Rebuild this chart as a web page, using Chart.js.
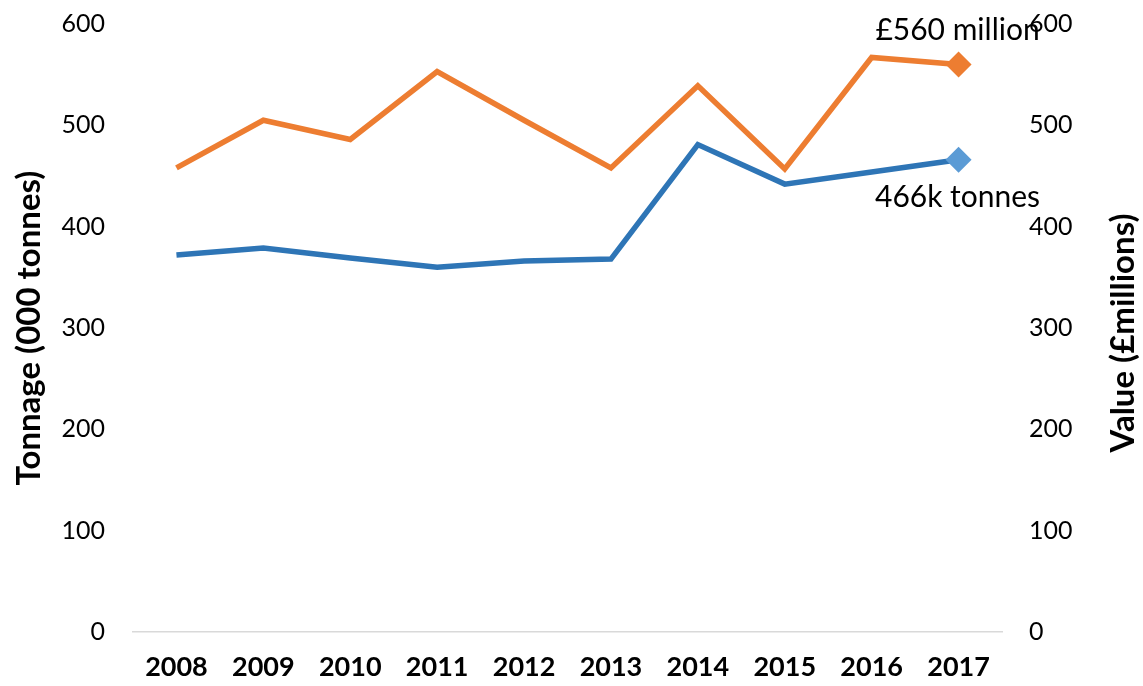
<!DOCTYPE html>
<html>
<head>
<meta charset="utf-8">
<script src="https://cdn.jsdelivr.net/npm/chart.js@4.4.0/dist/chart.umd.min.js"></script>
<style>
  body { margin: 0; background: #fff; }
</style>
</head>
<body>
<canvas id="chart" width="1143" height="686"></canvas>

<script>
// data
var years = ["2008", "2009", "2010", "2011", "2012", "2013", "2014", "2015", "2016", "2017"];
var tonnage = [372, 379, 369, 360, 366, 368, 481, 442, 454, 466];   // 000 tonnes
var value = [458, 505, 486, 553, 505, 458, 539, 457, 567, 560];     // £ millions
var yTicks = [0, 100, 200, 300, 400, 500, 600];
var tonnageLabel = "466k tonnes";
var valueLabel = "£560 million";

var fontName = "Lato";

// only the last point gets a diamond marker
function lastOnly(size) {
  return years.map(function (y, i) { return i === years.length - 1 ? size : 0; });
}

// fixed widths so the plot area lines up with the original
function fitY(width) {
  return function (s) {
    s.width = width;
    s.paddingTop = 0;
    s.paddingBottom = 0;
  };
}

// draws the end labels and the right-hand axis title
var extras = {
  id: "extras",
  afterDraw: function (chart) {
    var ctx = chart.ctx;
    var last = years.length - 1;
    var pTon = chart.getDatasetMeta(0).data[last];
    var pVal = chart.getDatasetMeta(1).data[last];

    ctx.save();
    ctx.fillStyle = "#000";
    ctx.font = "30px " + fontName;
    ctx.textAlign = "center";
    ctx.textBaseline = "middle";
    ctx.fillText(valueLabel, pVal.x - 1, pVal.y - 34);
    ctx.fillText(tonnageLabel, pTon.x - 1, pTon.y + 38);

    // right title, reading bottom to top like the left one
    var r = chart.scales.y1;
    ctx.font = "bold 33px " + fontName;
    ctx.translate(1123, (r.top + r.bottom) / 2 + 5);
    ctx.rotate(-Math.PI / 2);
    ctx.fillText("Value (£millions)", 0, 0);
    ctx.restore();
  }
};

var ctx = document.getElementById("chart");

var chart = new Chart(ctx, {
  type: "line",
  data: {
    labels: years,
    datasets: [{
      label: "Tonnage",
      data: tonnage,
      yAxisID: "y",
      borderColor: "#2E75B6",
      borderWidth: 5.5,
      pointStyle: "rectRot",
      pointRadius: lastOnly(13),
      pointBackgroundColor: "#5B9BD5",
      pointBorderColor: "#5B9BD5",
      pointBorderWidth: 0,
      tension: 0
    }, {
      label: "Value",
      data: value,
      yAxisID: "y1",
      borderColor: "#ED7D31",
      borderWidth: 5.5,
      pointStyle: "rectRot",
      pointRadius: lastOnly(13),
      pointBackgroundColor: "#ED7D31",
      pointBorderColor: "#ED7D31",
      pointBorderWidth: 0,
      tension: 0
    }]
  },
  options: {
    responsive: false,
    animation: false,
    layout: { padding: { top: 24, bottom: 0, left: 0, right: 0 } },
    plugins: {
      legend: { display: false },
      tooltip: { enabled: false }
    },
    scales: {
      x: {
        offset: true,
        grid: { display: false, drawTicks: false },
        border: { display: true, color: "#D9D9D9", width: 1.5 },
        ticks: {
          color: "#000",
          padding: 19,
          font: { family: fontName, size: 27, weight: "bold" }
        },
        afterFit: function (s) { s.height = 54; }
      },
      y: {
        position: "left",
        min: 0,
        max: 600,
        afterBuildTicks: function (s) { s.ticks = yTicks.map(function (v) { return { value: v }; }); },
        grid: { display: false, drawTicks: false },
        border: { display: false },
        ticks: {
          color: "#000",
          padding: 28,
          font: { family: fontName, size: 25 }
        },
        title: {
          display: true,
          text: "Tonnage (000 tonnes)",
          color: "#000",
          padding: { top: 10, bottom: 0 },
          font: { family: fontName, size: 33, weight: "bold" }
        },
        afterFit: fitY(133)
      },
      y1: {
        position: "right",
        min: 0,
        max: 600,
        afterBuildTicks: function (s) { s.ticks = yTicks.map(function (v) { return { value: v }; }); },
        grid: { display: false, drawTicks: false },
        border: { display: false },
        ticks: {
          color: "#000",
          padding: 27,
          font: { family: fontName, size: 25 }
        },
        afterFit: fitY(141)
      }
    }
  },
  plugins: [extras]
});
</script>
</body>
</html>
